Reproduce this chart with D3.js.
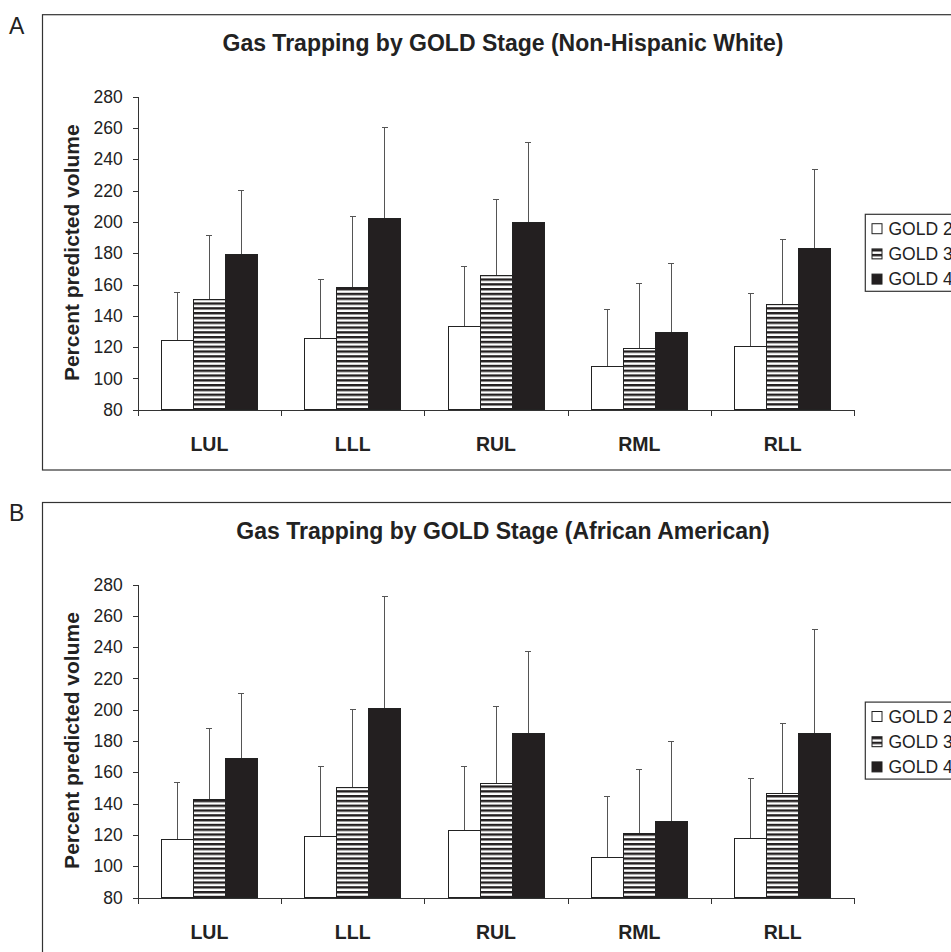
<!DOCTYPE html>
<html lang="en">
<head>
    <meta charset="UTF-8">
    <title>Gas Trapping by GOLD Stage</title>
    <script src="https://d3js.org/d3.v7.min.js"></script>
    <style>
        body { margin: 0; background: #fff; }
        svg { display: block; font-family: "Liberation Sans", Arial, sans-serif; }
        .frame { fill: none; stroke: #333; stroke-width: 1.2px; }
        .axis path, .axis line { stroke: #333; shape-rendering: crispEdges; }
        .axis text { fill: #222; font-size: 17.5px; }
        .bar { stroke: #222; stroke-width: 1px; shape-rendering: crispEdges; }
        .err { stroke: #555; stroke-width: 1px; fill: none; shape-rendering: crispEdges; }
    </style>
</head>
<body>
<svg width="951" height="952"></svg>
<script>
    const categories = ["LUL", "LLL", "RUL", "RML", "RLL"];
    const series = ["GOLD 2", "GOLD 3", "GOLD 4"];
    const yTicks = [80, 100, 120, 140, 160, 180, 200, 220, 240, 260, 280];

    // panel A - Non-Hispanic White
    const whiteGold2 = [124, 125.6, 133.3, 107.9, 120.5];
    const whiteGold3 = [150.5, 158.2, 165.6, 119.2, 147.3];
    const whiteGold4 = [179, 201.9, 199.3, 129.4, 183.3];
    const whiteSd2 = [31, 37.7, 38.5, 36, 33.6];
    const whiteSd3 = [40.5, 45.4, 48.8, 41.3, 41.6];
    const whiteSd4 = [41, 58.3, 51.3, 44.3, 50.1];

    // panel B - African American
    const blackGold2 = [117.3, 119.2, 123, 105.8, 117.9];
    const blackGold3 = [142.6, 150.3, 152.8, 121.1, 146.5];
    const blackGold4 = [168.8, 200.8, 185, 128.8, 185];
    const blackSd2 = [36.2, 44.5, 40.7, 38.7, 38.1];
    const blackSd3 = [45.6, 49.8, 49.4, 40.7, 44.9];
    const blackSd4 = [41.7, 71.7, 51.9, 50.6, 66];

    const svg = d3.select("svg");

    const defs = svg.append("defs");
    const pat = defs.append("pattern")
        .attr("id", "stripes")
        .attr("patternUnits", "userSpaceOnUse")
        .attr("width", 8).attr("height", 4.8);
    pat.append("rect").attr("width", 8).attr("height", 4.8).attr("fill", "#fff");
    pat.append("rect").attr("y", 0).attr("width", 8).attr("height", 2.4).attr("fill", "#231f20");

    const fills = ["#fff", "url(#stripes)", "#231f20"];

    const x0 = d3.scaleBand().domain(categories).range([137.7, 854.3]).padding(0);
    const groupPad = (x0.bandwidth() - 96) / 2;
    const x1 = d3.scaleBand().domain(series).range([groupPad, groupPad + 96]).padding(0);
    const xEdges = d3.scaleLinear().domain([0, categories.length]).range(x0.range());

    function drawPanel(dy, letter, title, means, sds) {
        const g = svg.append("g").attr("transform", `translate(0,${dy})`);

        g.append("rect").attr("class", "frame")
            .attr("x", 42.5).attr("y", 14.7).attr("width", 960).attr("height", 455.3);

        g.append("text").attr("x", 9).attr("y", 33.5)
            .attr("font-size", 23).attr("fill", "#222").text(letter);

        g.append("text").attr("x", 503).attr("y", 51)
            .attr("text-anchor", "middle").attr("font-size", 23).attr("font-weight", "bold")
            .attr("fill", "#222").text(title);

        const y = d3.scaleLinear().domain([80, 280]).range([409.7, 96.7]);

        g.append("g").attr("class", "axis")
            .attr("transform", "translate(137.7,0)")
            .call(d3.axisLeft(y).tickValues(yTicks).tickSize(5).tickSizeOuter(0).tickPadding(10));

        g.append("g").attr("class", "axis")
            .attr("transform", "translate(0,409.7)")
            .call(d3.axisBottom(xEdges).tickValues(d3.range(categories.length + 1))
                .tickFormat("").tickSize(6).tickSizeOuter(0));

        g.append("g").selectAll("text")
            .data(categories)
            .enter().append("text")
            .attr("x", d => x0(d) + x0.bandwidth() / 2)
            .attr("y", 451)
            .attr("text-anchor", "middle")
            .attr("font-size", 19.5).attr("font-weight", "bold").attr("fill", "#222")
            .text(d => d);

        g.append("text")
            .attr("transform", "translate(79,252.7) rotate(-90)")
            .attr("text-anchor", "middle")
            .attr("font-size", 21).attr("font-weight", "bold").attr("fill", "#222")
            .text("Percent predicted volume");

        const rows = [];
        categories.forEach((c, i) => {
            series.forEach((s, j) => {
                rows.push({ cat: c, ser: s, k: j, v: means[j][i], sd: sds[j][i] });
            });
        });

        const bars = g.append("g").selectAll("g")
            .data(rows)
            .enter().append("g")
            .attr("transform", d => `translate(${x0(d.cat) + x1(d.ser)},0)`);

        const bw = x1.bandwidth();

        bars.append("line").attr("class", "err")
            .attr("x1", bw / 2).attr("x2", bw / 2)
            .attr("y1", d => y(d.v)).attr("y2", d => y(d.v + d.sd));
        bars.append("line").attr("class", "err")
            .attr("x1", bw / 2 - 3).attr("x2", bw / 2 + 3)
            .attr("y1", d => y(d.v + d.sd)).attr("y2", d => y(d.v + d.sd));

        bars.append("rect").attr("class", "bar")
            .attr("x", 0).attr("width", bw)
            .attr("y", d => y(d.v)).attr("height", d => y(80) - y(d.v))
            .attr("fill", d => fills[d.k]);

        // legend
        const lg = g.append("g");
        lg.append("rect").attr("class", "frame")
            .attr("x", 865.3).attr("y", 214.3).attr("width", 120).attr("height", 77);
        const item = lg.selectAll("g.item")
            .data(series)
            .enter().append("g").attr("class", "item")
            .attr("transform", (d, i) => `translate(0,${228.7 + i * 25.2})`);
        item.append("rect")
            .attr("x", 872).attr("y", -5).attr("width", 10).attr("height", 10)
            .attr("fill", (d, i) => i === 1 ? "url(#stripes)" : fills[i])
            .attr("stroke", "#222").attr("stroke-width", 1);
        item.append("text")
            .attr("x", 888.5).attr("y", 6.3)
            .attr("font-size", 17.5).attr("fill", "#222")
            .text(d => d);
    }

    drawPanel(0, "A", "Gas Trapping by GOLD Stage (Non-Hispanic White)",
        [whiteGold2, whiteGold3, whiteGold4], [whiteSd2, whiteSd3, whiteSd4]);
    drawPanel(487.8, "B", "Gas Trapping by GOLD Stage (African American)",
        [blackGold2, blackGold3, blackGold4], [blackSd2, blackSd3, blackSd4]);
</script>
</body>
</html>
